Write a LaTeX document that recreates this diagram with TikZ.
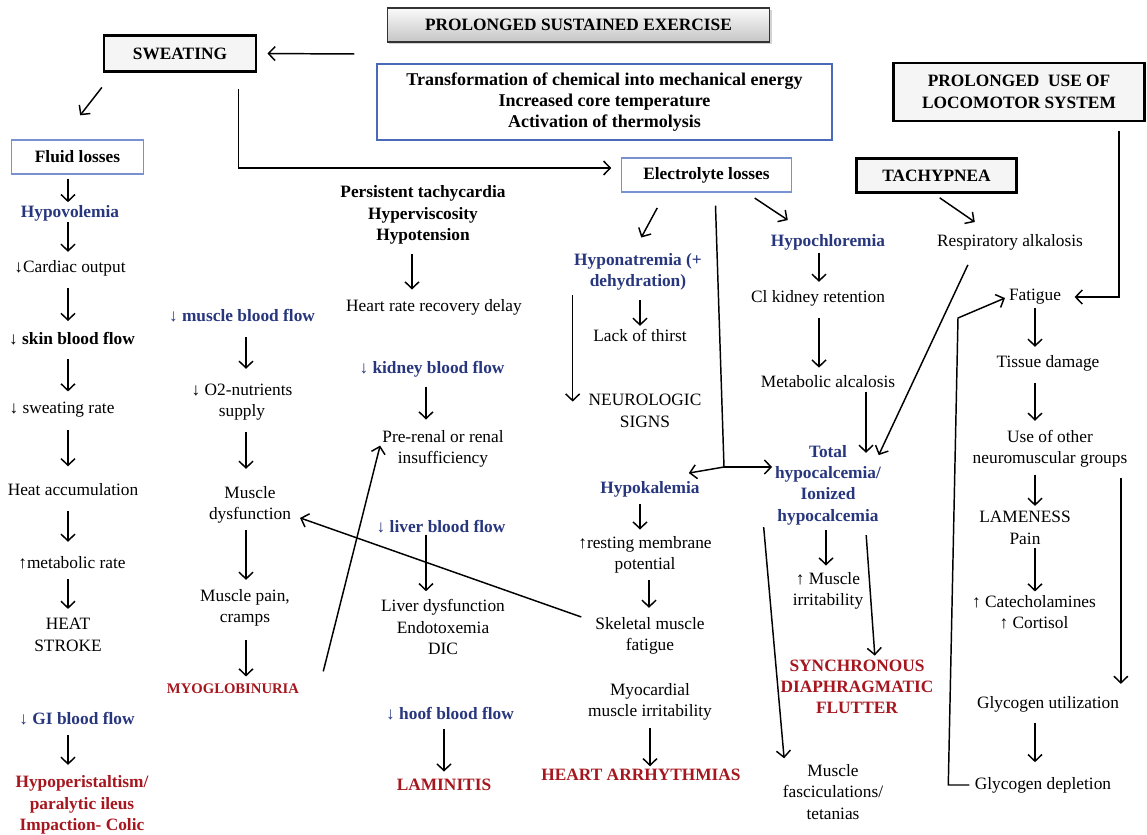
\documentclass[tikz,border=0pt]{standalone}
\usepackage{fontspec}
\setmainfont{Liberation Serif}
\usetikzlibrary{arrows.meta,calc,shadows}
\definecolor{navy}{RGB}{40,55,125}
\definecolor{dred}{RGB}{165,22,30}
\definecolor{bbox}{RGB}{75,105,185}
\definecolor{lbox}{RGB}{120,145,210}
\newcommand\varrow[4][]{\draw[arr,#1] (#2.south -| #4) -- (#3.north -| #4);}
\begin{document}
\begin{tikzpicture}[x=0.75pt,y=-0.75pt,
  every node/.style={font=\fontsize{13}{16}\selectfont, align=center, inner sep=1pt},
  b/.style={font=\fontsize{13}{16}\selectfont\bfseries},
  bl/.style={b,text=navy},
  rd/.style={b,text=dred},
  arr/.style={draw, line width=1.1pt, -{Straight Barb[length=5pt,width=10.5pt]}, shorten <=2pt, shorten >=2pt},
  ln/.style={draw, line width=1.1pt},
  hbox/.style={draw, line width=2.2pt, fill=gray!8, inner sep=0pt, b},
  lbx/.style={draw=lbox, line width=0.9pt, inner sep=0pt, b, minimum height=25.5pt},
]
\useasboundingbox (0,0) rectangle (1147,835);
\foreach \v in {68,246,412,426,444,640,649,650,819,826,866,1035} \coordinate (X\v) at (\v,0);

% ---------- top boxes ----------
\node[draw=black!80, line width=0.8pt, top color=gray!4, bottom color=gray!45,
      drop shadow={shadow xshift=1.5pt, shadow yshift=-1.5pt, opacity=0.35},
      minimum width=287pt, minimum height=25.5pt, b, inner sep=0pt] (ex) at (578.5,25) {PROLONGED SUSTAINED EXERCISE};
\node[hbox, minimum width=114pt, minimum height=27.5pt] (sw) at (180,53.5) {SWEATING};
\node[draw=bbox, line width=1.9pt, minimum width=341pt, minimum height=57pt, inner sep=0pt,
      font=\fontsize{13.5}{16}\selectfont\bfseries] (tr) at (604.5,102)
      {Transformation of chemical into mechanical energy\\Increased core temperature\\Activation of thermolysis};
\node[hbox, minimum width=188pt, minimum height=43.5pt] (loc) at (1019,92) {PROLONGED~~USE OF\\LOCOMOTOR SYSTEM};
\node[lbx, minimum width=99pt] (fl) at (77.5,157) {Fluid losses};
\node[lbx, minimum width=127pt] (el) at (706.5,175) {Electrolyte losses};
\node[hbox, minimum width=120pt, minimum height=26pt] (tach) at (936.5,175.5) {TACHYPNEA};

% ---------- column 1 ----------
\node[bl] (hypo) at (70,213) {Hypovolemia};
\node (co) at (70,268) {↓Cardiac output};
\node[b] (skin) at (72,339) {↓ skin blood flow};
\node (swr) at (62,410) {↓ sweating rate};
\node (heat) at (73,490) {Heat accumulation};
\node (met) at (72,563) {↑metabolic rate};
\node (hs) at (68,635) {HEAT\\STROKE};
\node[bl] (gi) at (77,719) {↓ GI blood flow};
\node[rd] (hyp) at (82,805) {Hypoperistaltism/\\paralytic ileus\\Impaction- Colic};

% ---------- column 2 ----------
\node[bl] (mbf) at (242,316) {↓ muscle blood flow};
\node (o2) at (242,402) {↓ O2-nutrients\\supply};
\node (mdys) at (250,505) {Muscle\\dysfunction};
\node (mpain) at (245,608) {Muscle pain,\\cramps};
\node[rd, font=\fontsize{11}{13}\selectfont\bfseries] (myo) at (233,689) {MYOGLOBINURIA};

% ---------- column 3 ----------
\node[b] (tachy) at (423,215) {Persistent tachycardia\\Hyperviscosity\\Hypotension};
\node (hrr) at (434,307) {Heart rate recovery delay};
\node[bl] (kbf) at (432,369) {↓ kidney blood flow};
\node (pre) at (443,449) {Pre-renal or renal\\insufficiency};
\node[bl] (lbf) at (441,527) {↓ liver blood flow};
\node (ldys) at (443,627) {Liver dysfunction\\Endotoxemia\\DIC};
\node[bl] (hbf) at (450,714) {↓ hoof blood flow};
\node[rd] (lam) at (444,785) {LAMINITIS};

% ---------- column 4 ----------
\node[bl] (hna) at (638,272) {Hyponatremia (+\\dehydration)};
\node (lack) at (640,335) {Lack of thirst};
\node (neuro) at (645,411) {NEUROLOGIC\\SIGNS};
\node[bl] (hk) at (650,489) {Hypokalemia};
\node (rmp) at (645,555) {↑resting membrane\\potential};
\node (smf) at (650,636) {Skeletal muscle\\fatigue};
\node (myoc) at (650,702) {Myocardial\\muscle irritability};
\node[rd] (ha) at (641,775) {HEART ARRHYTHMIAS};

% ---------- column 5 ----------
\node[bl] (hcl) at (828,242) {Hypochloremia};
\node (clk) at (818,298) {Cl kidney retention};
\node (malc) at (828,382) {Metabolic alcalosis};
\node[bl] (hca) at (828,485) {Total\\hypocalcemia/\\Ionized\\hypocalcemia};
\node (mirr) at (828,591) {↑ Muscle\\irritability};
\node[rd] (sdf) at (857,687) {SYNCHRONOUS\\DIAPHRAGMATIC\\FLUTTER};
\node (fasc) at (833,792) {Muscle\\fasciculations/\\tetanias};

% ---------- right column ----------
\node (ra) at (1010,242) {Respiratory alkalosis};
\node (fat) at (1035,297) {Fatigue};
\node (tis) at (1048,363) {Tissue damage};
\node (use) at (1050,449) {Use of other\\neuromuscular groups};
\node (lame) at (1025,528) {LAMENESS\\Pain};
\node (cat) at (1034,612) {↑ Catecholamines\\↑ Cortisol};
\node (gu) at (1048,704) {Glycogen utilization};
\node (gd) at (1043,785) {Glycogen depletion};

% ---------- connectors: top ----------
\coordinate (exo) at (357,54);
\draw[arr, shorten >=7.5pt] (exo) -- (sw.east);
\draw[arr] ($(sw.south west)+(1,12)$) -- ($(fl.north)+(1,-22)$);
\draw[arr, shorten >=7.5pt] ($(sw.south east)+(-19,13)$) |- ([yshift=5.25pt]el.west);

% column 1
\varrow[shorten <=3pt, shorten >=1pt]{fl}{hypo}{X68}
\varrow[shorten <=0pt, shorten >=5pt]{hypo}{co}{X68}
\varrow[shorten <=8pt, shorten >=7.5pt]{co}{skin}{X68}
\varrow[shorten <=9pt, shorten >=7pt]{skin}{swr}{X68}
\varrow[shorten <=8pt, shorten >=12pt]{swr}{heat}{X68}
\varrow[shorten <=10pt, shorten >=10pt]{heat}{met}{X68}
\varrow[shorten <=6pt, shorten >=6pt]{met}{hs}{X68}
\varrow[shorten <=6pt, shorten >=7pt]{gi}{hyp}{X68}

% column 2
\varrow[shorten <=10pt, shorten >=10pt]{mbf}{o2}{X246}
\varrow[shorten <=7.5pt, shorten >=12pt]{o2}{mdys}{X246}
\varrow[shorten <=4pt, shorten >=6pt]{mdys}{mpain}{X246}
\varrow[shorten <=9pt, shorten >=4.5pt]{mpain}{myo}{X246}

% column 3
\varrow[shorten <=6pt, shorten >=6pt]{tachy}{hrr}{X412}
\varrow[shorten <=6pt, shorten >=7pt]{kbf}{pre}{X426}
\draw[arr, shorten >=5pt] ($(lbf.center -| X426)+(0,5)$) -- (ldys.north -| X426);
\varrow[shorten <=5pt, shorten >=4.5pt]{hbf}{lam}{X444}
\draw[arr] ($(myo.east)+(22,-15)$) -- ($(pre.west)+(0,-6)$);

% column 4
\draw[arr] ($(el.south)+(-48,13)$) -- ($(hna.north)+(2,-12)$);
\varrow[shorten <=6pt, shorten >=1pt]{hna}{lack}{X640}
\draw[arr, shorten >=-6.5pt] (hna.south west) -- (hna.south west |- neuro.north);
\coordinate (fork) at (724,467);
\draw[ln] ($(el.south)+(9,13)$) -- (fork);
\draw[arr, shorten <=0pt] (fork) -- ($(hk.north east)+(-15,-6)$);
\draw[arr, shorten <=0pt, shorten >=1pt] (fork) -- (fork -| hca.west);
\varrow[shorten <=4.5pt, shorten >=4pt]{hk}{rmp}{X640}
\varrow[shorten <=4pt, shorten >=6pt]{rmp}{smf}{X649}
\varrow[shorten <=4.5pt, shorten >=1pt]{myoc}{ha}{X650}
\draw[arr] ($(smf.north west)+(-10,2)$) -- ($(mdys.east)+(5,12)$);

% column 5
\draw[arr] ($(el.south)+(46,4)$) -- ($(hcl.north)+(-38,-11)$);
\varrow[shorten <=1pt, shorten >=5pt]{hcl}{clk}{X819}
\varrow[shorten <=8pt, shorten >=5pt]{clk}{malc}{X819}
\varrow[shorten <=1.5pt, shorten >=-7pt]{malc}{hca}{X866}
\varrow[shorten <=3pt, shorten >=4pt]{hca}{mirr}{X826}
\draw[arr] ($(hca.south)+(38,6)$) -- ($(sdf.north)+(18,0)$);
\draw[arr] ($(hca.south west)+(-10,-2)$) -- ($(fasc.north west)+(3,-2)$);

% right
\draw[arr] ($(tach.south)+(1,2)$) -- ($(ra.north)+(-33,-9)$);
\draw[arr] ($(ra.south)+(-41,11)$) -- ($(hca.north east)+(-5,14)$);
\draw[arr, shorten <=0pt, shorten >=9pt] ($(loc.south)+(100,9)$) |- (fat.east);
\varrow[shorten <=1.5pt, shorten >=5pt]{fat}{tis}{X1035}
\varrow[shorten <=8pt, shorten >=6pt]{tis}{use}{X1035}
\varrow[shorten <=4pt, shorten >=3pt]{use}{lame}{X1035}
\varrow[shorten <=1.5pt, shorten >=1.5pt]{lame}{cat}{X1035}
\varrow[shorten <=7pt, shorten >=10pt]{gu}{gd}{X1035}
\coordinate (u1) at ($(use.south east)+(-8,9)$);
\draw[arr, shorten <=0pt, shorten >=8pt] (u1) -- (u1 |- gu.north);
\draw[arr, shorten <=3pt] (gd.west) -- ++(-25,0) -- (958,318) -- (fat.west);
\end{tikzpicture}
\end{document}
